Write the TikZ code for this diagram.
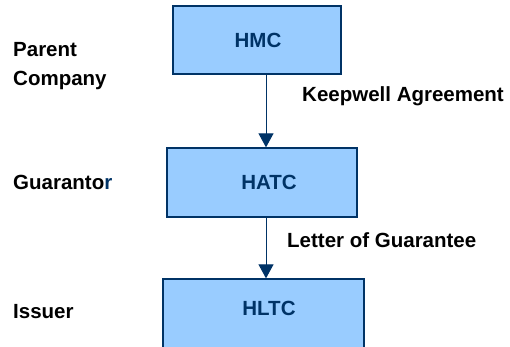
\documentclass[tikz,border=0pt]{standalone}
\usepackage{fontspec}
\setmainfont{Liberation Sans}
\definecolor{navy}{HTML}{003366}
\definecolor{skyfill}{HTML}{99CCFF}
\usetikzlibrary{arrows.meta}
\begin{document}
\begin{tikzpicture}[x=1pt, y=-1pt,
    every node/.style={font=\fontsize{20.5}{29}\selectfont\bfseries},
    entity/.style={draw=navy, fill=skyfill, line width=1.3pt, inner sep=0pt},
    boxtext/.style={text=navy},
    role/.style={anchor=west, align=left, inner sep=0pt},
    deal/.style={anchor=west, inner sep=0pt},
    link/.style={draw=navy, line width=1pt, -{Triangle[width=15pt, length=14pt]}}]
  \useasboundingbox (0, 0) rectangle (510, 346);
  \clip (0, 0) rectangle (510, 346);
  % boxes
  \node[entity, minimum width=168pt, minimum height=68pt] (hmc) at (257, 40) {};
  \node[entity, minimum width=190pt, minimum height=69pt] (hatc) at (262, 182.5) {};
  \node[entity, minimum width=201pt, minimum height=90pt] (hltc) at (263.5, 324) {};
  \node[boxtext] (hmct) at (258, 40) {HMC};
  \node[boxtext] (hatct) at (269, 182) {HATC};
  \node[boxtext] (hltct) at (269, 308) {HLTC};
  % roles
  \node[role] (parent) at (13, 66) {Parent\\Company};
  \node[role] (guar) at (13, 182) {Guaranto{\color{navy}r}};
  \node[role] (issuer) at (13, 312) {Issuer};
  % arrows
  \coordinate (ax) at (266, 0);
  \draw[link] (hmc.south -| ax) -- (hatc.north -| ax);
  \draw[link] (hatc.south -| ax) -- (hltc.north -| ax);
  \node[deal] (keep) at (302, 96) {Keepwell Agreement};
  \node[deal] (letter) at (287, 240) {Letter of Guarantee};
\end{tikzpicture}
\end{document}
